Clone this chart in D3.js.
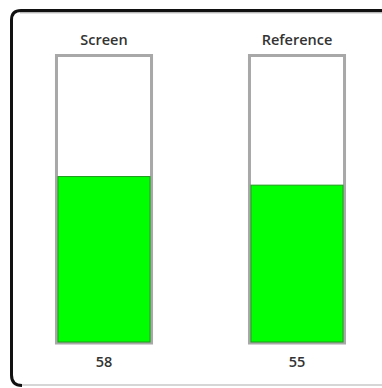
<!DOCTYPE html>
<html>
<head>
<meta charset="utf-8">
<script src="https://cdn.jsdelivr.net/npm/d3@7"></script>
<style>
  body { margin: 0; background: #fff; }
  svg { display: block; }
  text { font-family: "Open Sans", sans-serif; font-weight: 600; fill: #333; }
</style>
</head>
<body>
<svg width="382" height="388"></svg>
<script>
(() => {

    // gauge data
    const labels = ['Screen', 'Reference'];
    const values = [58, 55];
    const maxValue = 100;

    const svg = d3.select('svg'),
            width = +svg.attr('width'),
            height = +svg.attr('height');

    const gauges = labels.map((label, i) => ({ label, value: values[i] }));

    // frame: dark top/left edge, light bottom edge
    svg.append('line')
            .attr('x1', 18).attr('x2', width)
            .attr('y1', 385).attr('y2', 385)
            .attr('stroke', '#c8c8c8')
            .attr('stroke-width', 1.5);

    svg.append('path')
            .attr('d', 'M22,385.5 Q11.5,385.5 11.5,375 L11.5,20 Q11.5,10.5 21,10.5 L' + (width + 5) + ',10.5')
            .attr('fill', 'none')
            .attr('stroke', '#111')
            .attr('stroke-width', 3);

    svg.append('line')
            .attr('x1', 20).attr('x2', width)
            .attr('y1', 12.8).attr('y2', 12.8)
            .attr('stroke', '#999')
            .attr('stroke-width', 1);

    const x = d3.scaleBand()
            .domain(labels)
            .range([7.5, 393.5])
            .paddingInner(0.492)
            .paddingOuter(0.246);

    const y = d3.scaleLinear()
            .domain([0, maxValue])
            .range([343, 56]);

    const g = svg.append('g')
            .selectAll('g')
            .data(gauges)
            .enter().append('g');

    // empty tube
    g.append('rect')
            .attr('x', d => x(d.label) + 1.5)
            .attr('y', y(maxValue) - 0.5)
            .attr('width', x.bandwidth() - 3)
            .attr('height', y(0) - y(maxValue) + 0.5)
            .attr('fill', '#fff')
            .attr('stroke', '#a8a8a8')
            .attr('stroke-width', 3);

    // level
    g.append('rect')
            .attr('x', d => x(d.label) + 3)
            .attr('y', d => y(d.value))
            .attr('width', x.bandwidth() - 6)
            .attr('height', d => y(0) - y(d.value) - 1)
            .attr('fill', '#00ff00')
            .attr('stroke', '#1f9a1f')
            .attr('stroke-width', 1);

    g.append('text')
            .attr('x', d => x(d.label) + x.bandwidth() / 2)
            .attr('y', 45)
            .attr('text-anchor', 'middle')
            .attr('font-size', '14.5px')
            .text(d => d.label);

    g.append('text')
            .attr('x', d => x(d.label) + x.bandwidth() / 2)
            .attr('y', 367)
            .attr('text-anchor', 'middle')
            .attr('font-size', '14.5px')
            .text(d => d.value);

})();
</script>
</body>
</html>
